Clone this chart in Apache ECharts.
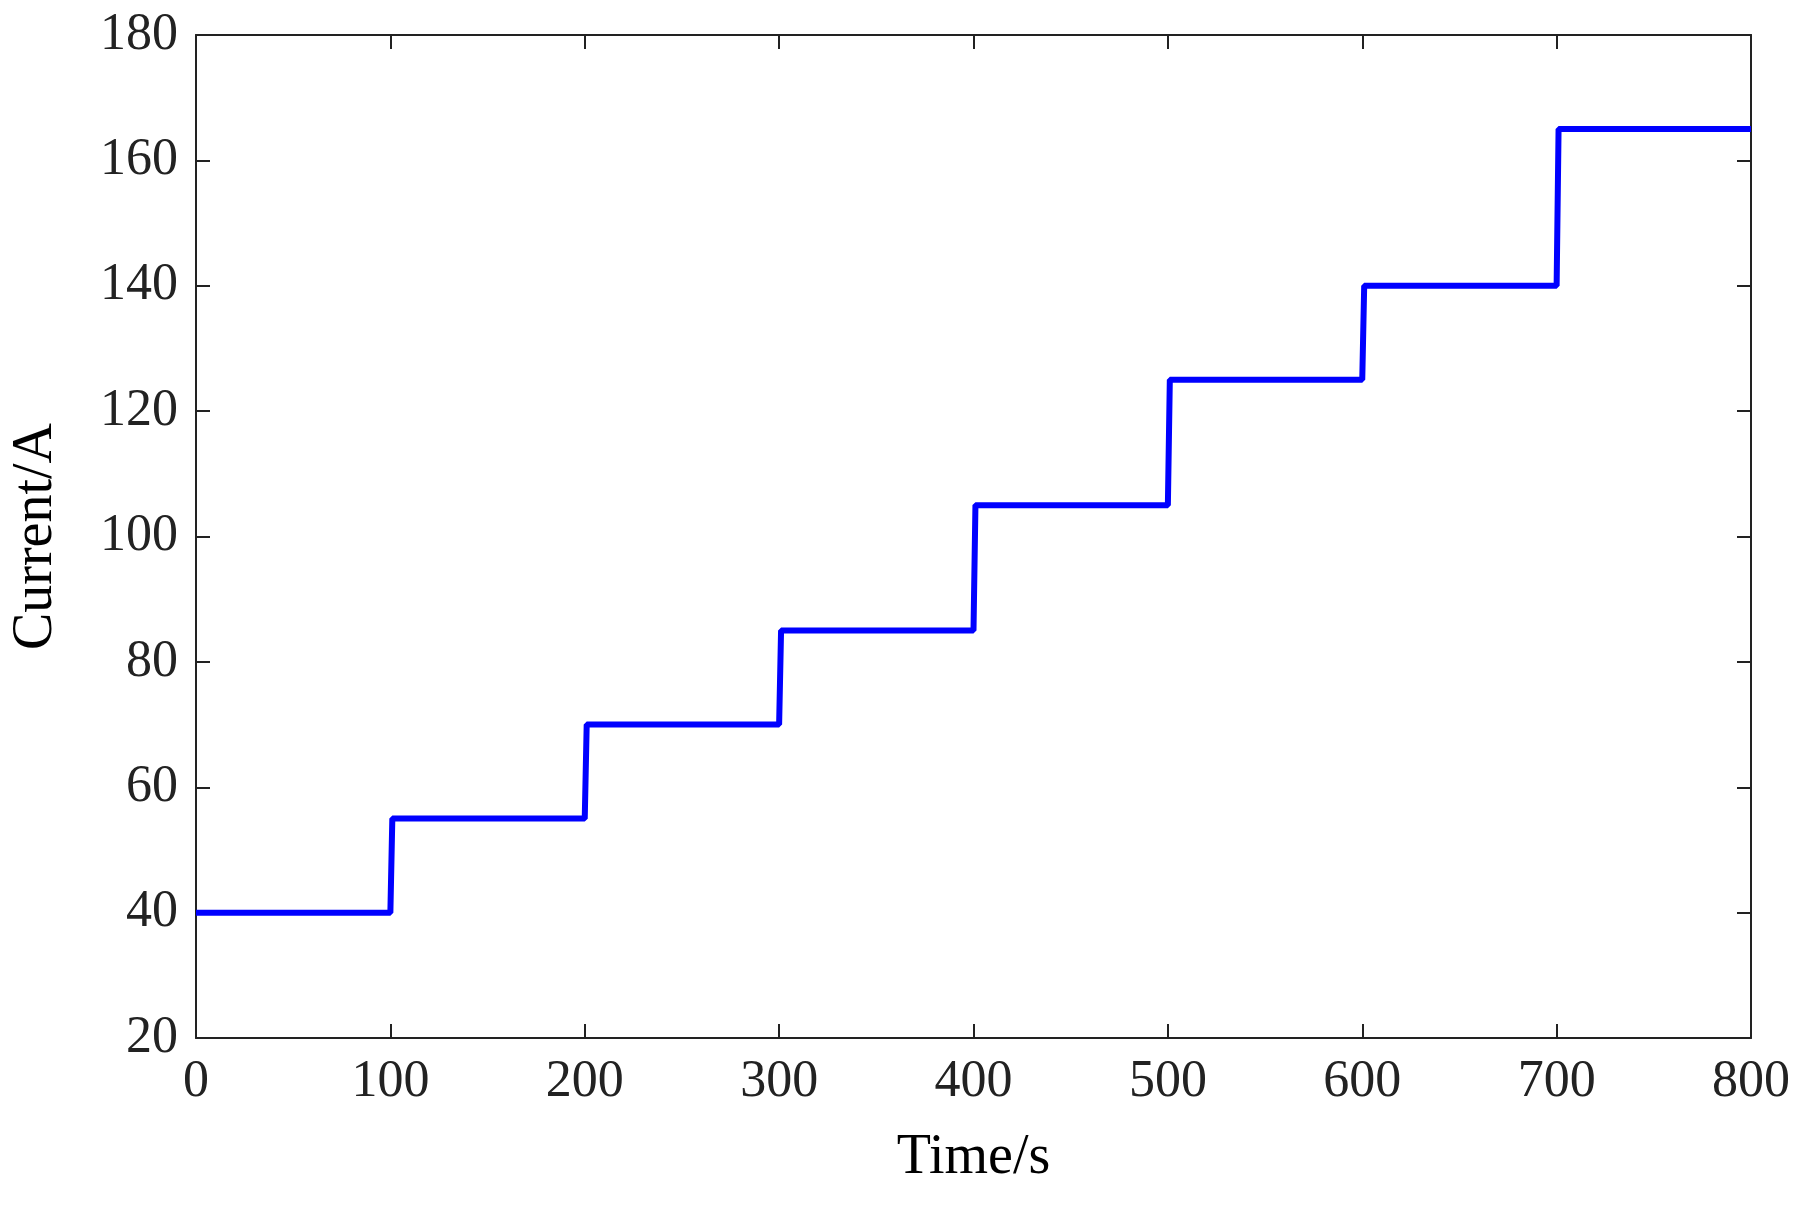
<!DOCTYPE html>
<html>
<head>
<meta charset="utf-8">
<script src="https://cdn.jsdelivr.net/npm/echarts@6/dist/echarts.min.js"></script>
<style>html,body{margin:0;padding:0;background:#fff}#main{width:1812px;height:1209px}</style>
</head>
<body>
<div id="main"></div>
<script>
// step profile: time (s) and current (A)
var times = [0, 100, 101, 200, 201, 300, 301, 400, 401, 500, 501, 600, 601, 700, 701, 800];
var currents = [40, 40, 55, 55, 70, 70, 85, 85, 105, 105, 125, 125, 140, 140, 165, 165];

var pts = [];
for (var i = 0; i < times.length; i++) pts.push([times[i], currents[i]]);

var font = 'Liberation Serif';
function lab() { return {color: '#222', fontFamily: font, fontSize: 52, margin: 18}; }
function line() { return {show: true, onZero: false, lineStyle: {color: '#222', width: 2}}; }
function tick() { return {show: true, inside: true, length: 14, lineStyle: {color: '#222', width: 2}}; }

var chart = echarts.init(document.getElementById('main'));
chart.setOption({
  animation: false,
  grid: {left: 194, right: 61, top: 35, bottom: 171},
  xAxis: [
    {type: 'value', position: 'bottom', min: 0, max: 800, interval: 100, axisLine: line(), axisTick: tick(),
     axisLabel: lab(), splitLine: {show: false},
     name: 'Time/s', nameLocation: 'middle', nameGap: 92,
     nameTextStyle: {color: '#000', fontFamily: font, fontSize: 56}},
    {type: 'value', position: 'top', min: 0, max: 800, interval: 100, axisLine: line(),
     axisTick: tick(), axisLabel: {show: false}, splitLine: {show: false}}
  ],
  yAxis: [
    {type: 'value', position: 'left', min: 20, max: 180, interval: 20, axisLine: line(), axisTick: tick(),
     axisLabel: lab(), splitLine: {show: false},
     name: 'Current/A', nameLocation: 'middle', nameGap: 132,
     nameTextStyle: {color: '#000', fontFamily: font, fontSize: 56}},
    {type: 'value', position: 'right', min: 20, max: 180, interval: 20, axisLine: line(),
     axisTick: tick(), axisLabel: {show: false}, splitLine: {show: false}}
  ],
  series: [{
    type: 'line', data: pts, showSymbol: false,
    lineStyle: {color: '#0000ff', width: 6}
  }]
});
</script>
</body>
</html>
